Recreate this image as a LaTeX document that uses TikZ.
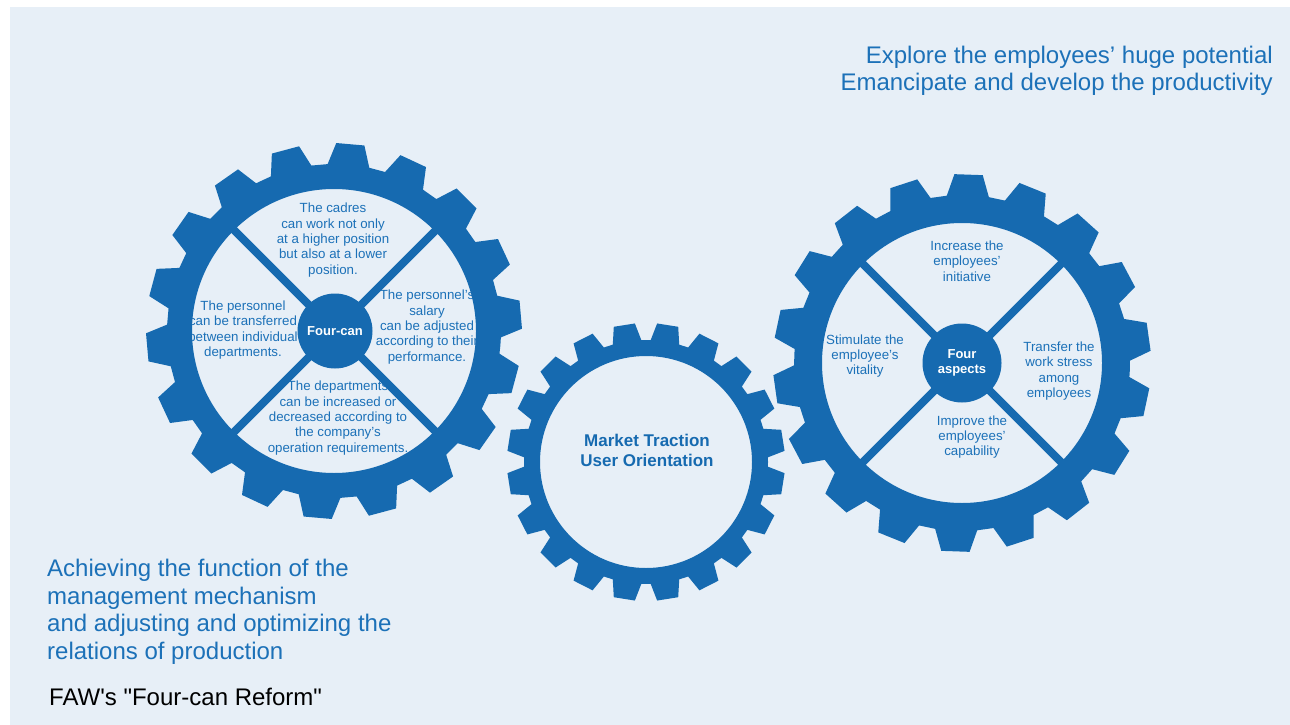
\documentclass[tikz,border=0pt]{standalone}
\usepackage{fontspec}
\setmainfont{Liberation Sans}
\newfontfamily\plainsans{Liberation Sans}[Ligatures=TeXOff]
\definecolor{gearblue}{RGB}{22,106,176}
\definecolor{txtblue}{RGB}{28,113,184}
\definecolor{bgblue}{RGB}{231,239,247}
% #1 cx, #2 cy, #3 teeth, #4 phase, #5 root R, #6 tip R, #7 base half-angle, #8 tip half-angle, #9 inner R
\newcommand\drawgear[9]{%
  \fill[gearblue, even odd rule, shift={(#1,#2)}]
    ({#4-180/#3}:#5)
    \foreach \i in {1,...,#3} {
      -- ({#4+360/#3*(\i-1)-#7}:#5)
      -- ({#4+360/#3*(\i-1)-#8}:#6)
      -- ({#4+360/#3*(\i-1)+#8}:#6)
      -- ({#4+360/#3*(\i-1)+#7}:#5)
    } -- cycle
    (0,0) circle (#9);
}
\begin{document}
\begin{tikzpicture}[x=1pt,y=-1pt,
  small/.style={font=\fontsize{13.3}{15.3}\selectfont, text=txtblue, align=center, inner sep=0pt},
  big/.style={font=\fontsize{24}{27.5}\selectfont, inner sep=0pt},
  hub/.style={circle, fill=gearblue, text=white, font=\bfseries\fontsize{13}{15}\selectfont, inner sep=0pt, align=center},
  spoke/.style={draw=gearblue, line width=8pt}]
\useasboundingbox (0,0) rectangle (1290,725);
\fill[white] (0,0) rectangle (1290,725);
\fill[bgblue] (10,7) rectangle (1290,725);

% corner texts
\node[big, text=txtblue, anchor=east, align=right] (title) at (1273,71)
  {Explore the employees’ huge potential\\Emancipate and develop the productivity};
\node[big, text=txtblue, anchor=west, align=left] (achieve) at (47,612)
  {Achieving the function of the\\management mechanism\\and adjusting and optimizing the\\relations of production};
\node[big, text=black, anchor=west, font=\plainsans\fontsize{24}{27.5}\selectfont] (faw) at (49,697) {FAW's "Four-can Reform"};

% left gear texts
\node[small] (lt) at (333,240) {The cadres\\can work not only\\at a higher position\\but also at a lower\\position.};
\node[small] (lr) at (427,327) {The personnel's\\salary\\can be adjusted\\according to their\\performance.};
\node[small] (ll) at (243,330) {The personnel\\can be transferred\\between individual\\departments.};
\node[small] (lb) at (338,418) {The departments\\can be increased or\\decreased according to\\the company's\\operation requirements.};

% right gear texts
\node[small] (rt) at (967,261) {Increase the\\employees'\\initiative};
\node[small] (rl) at (865,356) {Stimulate the\\employee's\\vitality};
\node[small] (rr) at (1059,371) {Transfer the\\work stress\\among\\employees};
\node[small] (rb) at (972,437) {Improve the\\employees'\\capability};

% gears
\drawgear{334}{331}{18}{15}{167}{188}{7.2}{4.3}{142}
\drawgear{962}{363}{18}{12}{168}{189}{7.2}{4.3}{140}
\drawgear{646}{462}{20}{9}{122}{139}{6.8}{4.4}{106}

% hubs and spokes
\coordinate (cL) at (335,331);
\coordinate (cR) at (962,363);
\foreach \a in {45,135,225,315} {
  \draw[spoke] (cL) -- ++(\a:148);
  \draw[spoke] (cR) -- ++(\a:146);
}
\node[hub, minimum size=75pt] (hubL) at (cL) {Four-can};
\node[hub, minimum size=79pt] (hubR) at (cR) {Four\\aspects};

\node[font=\bfseries\fontsize{17}{20}\selectfont, text=gearblue, align=center, inner sep=0pt] (mid) at (647,450)
  {Market Traction\\User Orientation};
\end{tikzpicture}
\end{document}
